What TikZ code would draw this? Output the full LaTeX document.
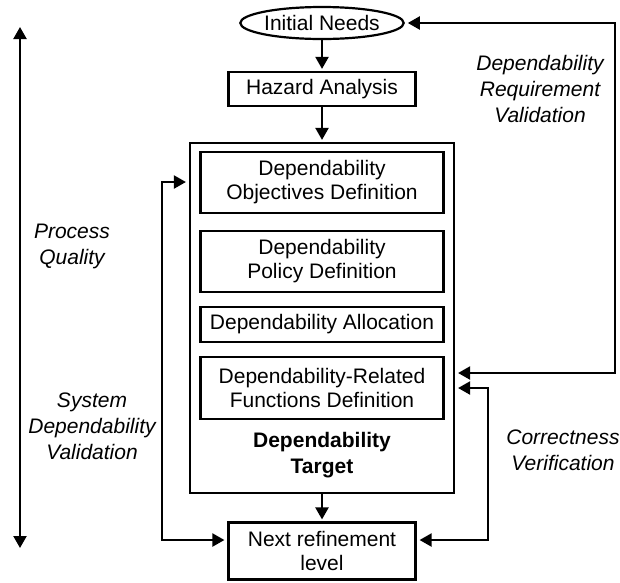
\documentclass[tikz,border=0pt]{standalone}
\usepackage{fontspec}
\setmainfont{Liberation Sans}
\usetikzlibrary{arrows.meta, shapes.geometric}

\begin{document}
\begin{tikzpicture}[x=1pt, y=-1pt,
	box/.style={draw, line width=2.2pt, inner sep=0pt, align=center, font=\fontsize{21}{24}\selectfont},
	note/.style={align=center, font=\fontsize{21}{26}\selectfont\itshape},
	flow/.style={line width=2.2pt, -{Triangle[length=12pt, width=13pt]}, shorten >=2pt},
	backline/.style={line width=2.2pt, {Triangle[length=12pt, width=13pt]}-{Triangle[length=12pt, width=13pt]}, shorten >=3pt, shorten <=3pt}]
		\useasboundingbox (0,0) rectangle (620,582);

\coordinate (reqtop) at (615,23);
\coordinate (reqbot) at (615,373);
\coordinate (vertop) at (488,388);
\coordinate (verbot) at (488,540);
\coordinate (valtop) at (162,182);
\coordinate (valbot) at (162,540);
\coordinate (qualtop) at (20,27);
\coordinate (qualbot) at (20,548);

\node[box, ellipse, minimum width=143pt, minimum height=32pt] (needs) at (322,23) {Initial Needs};
\node[box, minimum width=187pt, minimum height=34pt] (hazard) at (322,89) {Hazard Analysis};
\node[box, minimum width=264pt, minimum height=350pt] (target) at (322,318) {};
\node[box, minimum width=243pt, minimum height=61pt] (objectives) at (322,182.5) {Dependability\\Objectives Definition};
\node[box, minimum width=243pt, minimum height=61pt] (policy) at (322,261.5) {Dependability\\Policy Definition};
\node[box, minimum width=243pt, minimum height=35pt] (allocation) at (322,324.5) {Dependability Allocation};
\node[box, minimum width=243pt, minimum height=62pt] (functions) at (322,388) {Dependability-Related\\Functions Definition};
\node[align=center, font=\fontsize{21}{26}\selectfont\bfseries] (targetname) at (322,455) {Dependability\\Target};
\node[box, minimum width=187pt, minimum height=57pt] (next) at (322,551) {Next refinement\\level};

\draw[flow] (needs.south) -- (hazard.north);
\draw[flow] (hazard.south) -- (target.north);
\draw[flow] (target.south) -- (next.north);

\draw[backline] (needs.east) -- (reqtop) -- (reqbot) -- (target.east |- reqbot);
\draw[backline] (target.east |- vertop) -- (vertop) -- (verbot) -- (next.east |- verbot);
\draw[backline] (target.west |- valtop) -- (valtop) -- (valbot) -- (next.west |- valbot);
\draw[backline, shorten <=0pt, shorten >=0pt] (qualtop) -- (qualbot);

\node[note] (reqlabel) at (540,89) {Dependability\\Requirement\\Validation};
\node[note] (quallabel) at (72,246) {Process\\Quality};
\node[note] (vallabel) at (92,426) {System\\Dependability\\Validation};
\node[note] (verlabel) at (563,450) {Correctness\\Verification};
	\end{tikzpicture}
\end{document}
